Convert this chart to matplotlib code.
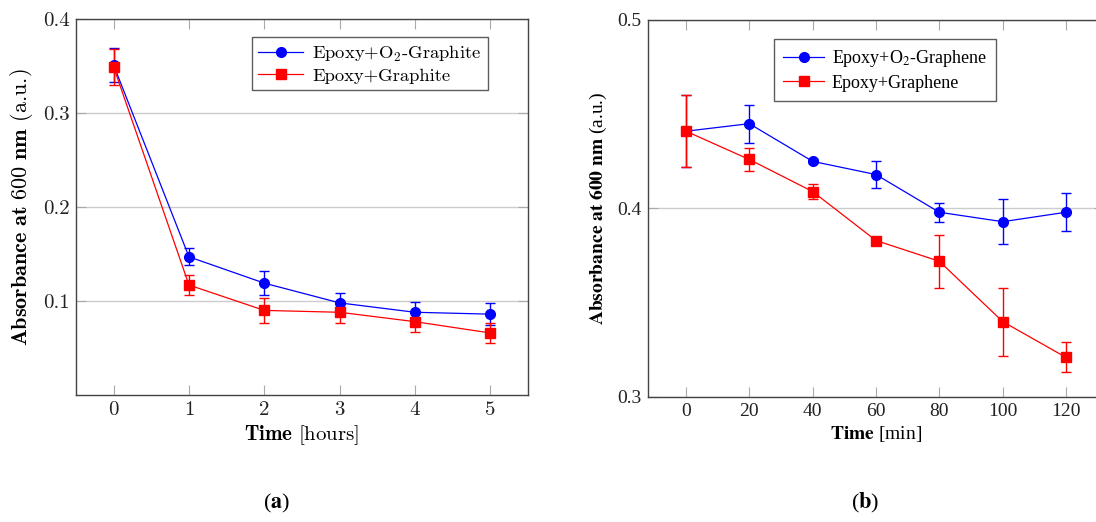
import matplotlib
matplotlib.use("Agg")
import matplotlib.pyplot as plt

# --- datos (a): grafito, tiempo en horas ---
hours = [0, 1, 2, 3, 4, 5]
o2_graphite = [0.351, 0.147, 0.119, 0.098, 0.088, 0.086]
o2_graphite_err = [0.018, 0.009, 0.013, 0.011, 0.011, 0.012]
graphite = [0.349, 0.117, 0.090, 0.088, 0.078, 0.066]
graphite_err = [0.019, 0.011, 0.013, 0.011, 0.011, 0.011]

# --- datos (b): grafeno, tiempo en minutos ---
minutes = [0, 20, 40, 60, 80, 100, 120]
o2_graphene = [0.441, 0.445, 0.425, 0.418, 0.398, 0.393, 0.398]
o2_graphene_err = [0.019, 0.010, 0.001, 0.007, 0.005, 0.012, 0.010]
graphene = [0.441, 0.426, 0.409, 0.383, 0.372, 0.340, 0.321]
graphene_err = [0.019, 0.006, 0.004, 0.001, 0.014, 0.018, 0.008]

yticks_a = [0.1, 0.2, 0.3, 0.4]
yticks_b = [0.3, 0.4, 0.5]

BLUE = "#0000ff"
RED = "#ff0000"

fig = plt.figure(figsize=(10.96, 5.22), dpi=100)


def style_axes(ax):
    for s in ax.spines.values():
        s.set_color("#444444")
        s.set_linewidth(1.0)
    ax.tick_params(direction="in", top=True, right=True, length=7, width=0.8,
                   color="#aaaaaa", labelcolor="#222222", pad=4.5)
    ax.yaxis.grid(True, color="#cccccc", linewidth=1.0)
    ax.set_axisbelow(True)


def draw(ax, x, y1, e1, y2, e2):
    c1 = ax.errorbar(x, y1, yerr=e1, color=BLUE, marker="o", ms=7, lw=0.9,
                     elinewidth=1.0, capsize=3.5, capthick=1.0, zorder=3)
    c2 = ax.errorbar(x, y2, yerr=e2, color=RED, marker="s", ms=7, lw=0.9,
                     elinewidth=1.0, capsize=3.5, capthick=1.0, zorder=3)
    # en la leyenda solo línea + marcador, sin barras de error
    return [c1[0], c2[0]]


# ---------
# (a)
# ---------
ax1 = fig.add_axes([0.0693, 0.2433, 0.4124, 0.7203])
style_axes(ax1)
h1 = draw(ax1, hours, o2_graphite, o2_graphite_err, graphite, graphite_err)
ax1.set_xlim(-0.5, 5.5)
ax1.set_ylim(0, 0.4)
ax1.set_xticks(hours)
ax1.set_xticklabels([str(h) for h in hours], family="cmr10", fontsize=15)
ax1.set_yticks(yticks_a)
ax1.set_yticklabels([f"{v:.1f}" for v in yticks_a], family="cmr10", fontsize=15)
ax1.set_xlabel(r"$\mathbf{Time}$ [hours]", family="cmr10", fontsize=15,
               math_fontfamily="cm", labelpad=3)
ax1.set_ylabel(r"$\mathbf{Absorbance\ at\ 600\ nm}$ (a.u.)", family="cmr10",
               fontsize=16, math_fontfamily="cm", labelpad=6)
leg1 = ax1.legend(h1, [r"Epoxy+O$_2$-Graphite", "Epoxy+Graphite"],
                  loc="upper left", bbox_to_anchor=(0.389, 0.951), borderaxespad=0,
                  prop={"family": "cmr10", "size": 13.4}, frameon=True,
                  fancybox=False, edgecolor="#333333", handlelength=2.4,
                  handletextpad=0.5, borderpad=0.35, labelspacing=0.2)
leg1.get_frame().set_linewidth(1.0)
for t in leg1.get_texts():
    t.set_math_fontfamily("cm")

# ---------
# (b)
# ---------
ax2 = fig.add_axes([0.5912, 0.2395, 0.4161, 0.7222])
style_axes(ax2)
h2 = draw(ax2, minutes, o2_graphene, o2_graphene_err, graphene, graphene_err)
ax2.set_xlim(-12, 132)
ax2.set_ylim(0.3, 0.5)
ax2.set_xticks(minutes)
ax2.set_xticklabels([str(m) for m in minutes], family="Liberation Serif", fontsize=14)
ax2.set_yticks(yticks_b)
ax2.set_yticklabels([f"{v:.1f}" for v in yticks_b], family="Liberation Serif", fontsize=14)
ax2.set_xlabel(r"$\mathbf{Time}$ [min]", family="Liberation Serif", fontsize=14,
               math_fontfamily="stix", labelpad=3)
ax2.set_ylabel(r"$\mathbf{Absorbance\ at\ 600\ nm}$ (a.u.)", family="Liberation Serif",
               fontsize=14, math_fontfamily="stix", labelpad=6)
leg2 = ax2.legend(h2, [r"Epoxy+O$_2$-Graphene", "Epoxy+Graphene"],
                  loc="upper left", bbox_to_anchor=(0.276, 0.95), borderaxespad=0,
                  prop={"family": "Liberation Serif", "size": 13}, frameon=True,
                  fancybox=False, edgecolor="#333333", handlelength=2.3,
                  handletextpad=0.4, borderpad=0.5, labelspacing=0.32)
leg2.get_frame().set_linewidth(1.0)
for t in leg2.get_texts():
    t.set_math_fontfamily("stix")

# subfigure labels
fig.text(0.2527, 0.036, r"($\mathbf{a}$)", ha="center", va="center",
         family="Liberation Serif", fontsize=16, math_fontfamily="stix")
fig.text(0.789, 0.036, r"($\mathbf{b}$)", ha="center", va="center",
         family="Liberation Serif", fontsize=16, math_fontfamily="stix")

fig.savefig("out.png", dpi=100)
